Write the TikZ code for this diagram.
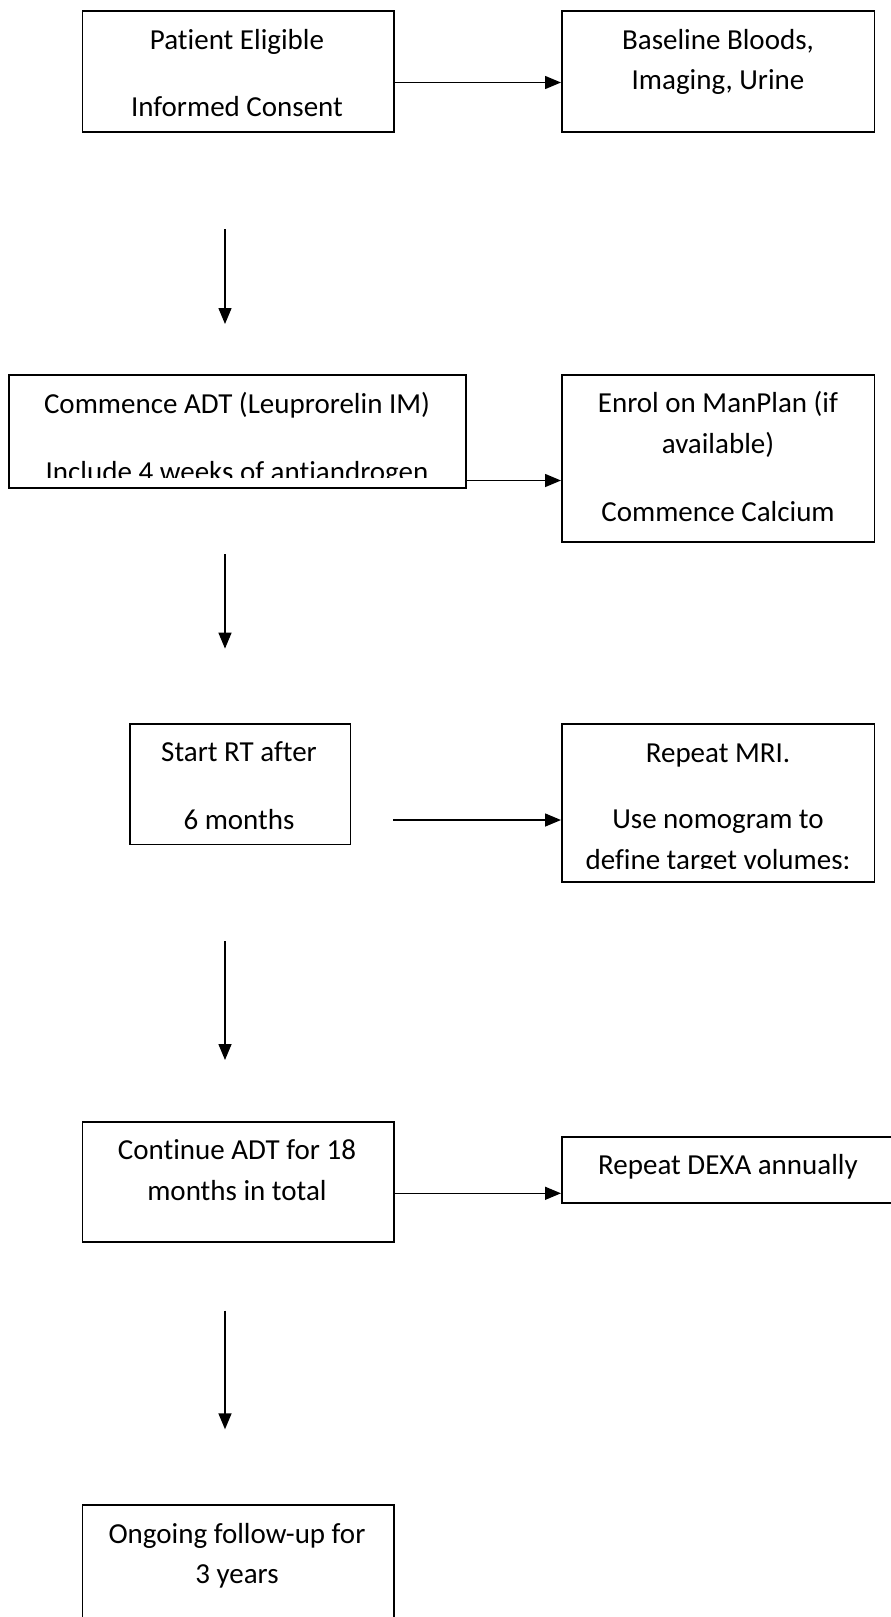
\documentclass[tikz,border=0pt]{standalone}
\usepackage{fontspec}
\setmainfont{Carlito}[Ligatures={NoCommon,NoContextual}]
\newcommand\nolig{\kern0pt{}}
\usetikzlibrary{arrows.meta}
\begin{document}
\begin{tikzpicture}[x=1pt,y=-1pt,
  box/.style={draw=black, line width=1.8pt, anchor=north west, inner sep=0pt},
  txt/.style={font=\fontsize{29}{35}\selectfont, anchor=base, inner sep=0pt},
  conn/.style={line width=1.5pt, -{Triangle[length=16pt,width=13pt]}}]
\useasboundingbox (0,0) rectangle (891,1617);
\clip (0,0) rectangle (891,1617);
% boxes
\node[box, minimum width=311.5pt, minimum height=120.7pt] (b1) at (81.5,10.3) {};
\node[box, minimum width=312.5pt, minimum height=120.7pt] (b2) at (561,10.3) {};
\node[box, minimum width=456.7pt, minimum height=112.7pt] (b3) at (8.3,374) {};
\node[box, minimum width=312.5pt, minimum height=167pt] (b4) at (561,374) {};
\node[box, minimum width=220.6pt, minimum height=120.6pt] (b5) at (129,723) {};
\node[box, minimum width=312.5pt, minimum height=157.7pt] (b6) at (561,723) {};
\node[box, minimum width=311.5pt, minimum height=120.3pt] (b7) at (81.5,1120.7) {};
\node[box, minimum width=340pt, minimum height=66.6pt] (b8) at (561,1135.7) {};
\node[box, minimum width=311.5pt, minimum height=140pt] (b9) at (81.5,1504) {};
% texts
\node[txt] (t1a) at (237,49.3) {Pat\nolig ient Eligible};
\node[txt] (t1b) at (237,116.7) {Informed Consent};
\node[txt] (t2a) at (718,49.3) {Baseline Bloods,};
\node[txt] (t2b) at (718,89.3) {Imaging, Urine};
\node[txt] (t3a) at (237,413.3) {Commence ADT (Leuprorelin IM)};
\begin{scope}
\clip (8.3,374) rectangle (465,477);
\node[txt] (t3b) at (237,481) {Include 4 weeks of ant\nolig iandrogen};
\end{scope}
\node[txt] (t4a) at (718,412.3) {Enrol on ManPlan (if};
\node[txt] (t4b) at (718,453.3) {available)};
\node[txt] (t4c) at (718,521) {Commence Calcium};
\node[txt] (t5a) at (239,761.7) {Start RT af\nolig ter};
\node[txt] (t5b) at (239,829.3) {6 months};
\node[txt] (t6a) at (718,762.3) {Repeat MRI.};
\node[txt] (t6b) at (718,828.3) {Use nomogram to};
\begin{scope}
\clip (561,723) rectangle (873.5,868.3);
\node[txt] (t6c) at (718,869.3) {def\nolig ine target volumes:};
\end{scope}
\node[txt] (t7a) at (237,1159) {Cont\nolig inue ADT for 18};
\node[txt] (t7b) at (237,1200) {months in total};
\node[txt] (t8a) at (728,1174) {Repeat DEXA annually};
\node[txt] (t9a) at (237,1543.3) {Ongoing follow-up for};
\node[txt] (t9b) at (237,1583.3) {3 years};
% free ends
\coordinate (a1) at (393,82.5);
\coordinate (a2) at (465,480.5);
\coordinate (a3) at (393,820);
\coordinate (a4) at (393,1193.3);
\coordinate (d1s) at (225,229);  \coordinate (d1e) at (225,324);
\coordinate (d2s) at (225,554);  \coordinate (d2e) at (225,648.6);
\coordinate (d3s) at (225,941);  \coordinate (d3e) at (225,1060);
\coordinate (d4s) at (225,1310.7); \coordinate (d4e) at (225,1429.3);
% connectors
\draw[conn] (a1) -- (b2.west |- a1);
\draw[conn] (a2) -- (b4.west |- a2);
\draw[conn] (a3) -- (b6.west |- a3);
\draw[conn] (a4) -- (b8.west |- a4);
\draw[conn] (d1s) -- (d1e);
\draw[conn] (d2s) -- (d2e);
\draw[conn] (d3s) -- (d3e);
\draw[conn] (d4s) -- (d4e);
\end{tikzpicture}
\end{document}
